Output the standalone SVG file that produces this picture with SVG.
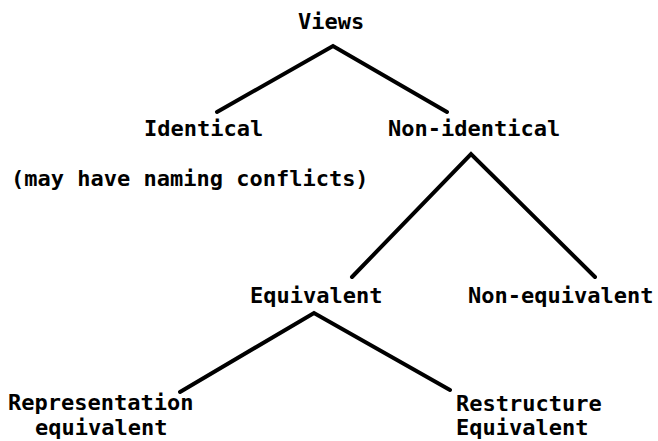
<svg xmlns="http://www.w3.org/2000/svg" width="658" height="441" viewBox="0 0 658 441">
  <style>
    .label { font-family: "DejaVu Sans Mono", "Liberation Mono", monospace; font-size: 22px; font-weight: bold; fill: #000; }
    .edge { fill: none; stroke: #000; stroke-width: 4; stroke-linejoin: miter; stroke-linecap: round; }
  </style>
  <rect width="658" height="441" fill="#fff"/>

  <!-- connectors: each tree branch is drawn as a single bent polyline -->
  <g id="connectors">
    <polyline class="edge" points="217,112 333,46 447,112"/>
    <polyline class="edge" points="352,277 471,154 595,277"/>
    <polyline class="edge" points="180,392 314,313 450,390"/>
  </g>

  <g id="views"><text class="label" x="298" y="29">Views</text></g>
  <g id="identical"><text class="label" x="144" y="136">Identical</text></g>
  <g id="non-identical"><text class="label" x="388" y="136">Non-identical</text></g>
  <g id="naming-note"><text class="label" x="11" y="186">(may have naming conflicts)</text></g>
  <g id="equivalent"><text class="label" x="250" y="303">Equivalent</text></g>
  <g id="non-equivalent"><text class="label" x="468" y="303">Non-equivalent</text></g>
  <g id="representation-equivalent">
    <text class="label" x="8" y="410">Representation</text>
    <text class="label" x="35" y="435">equivalent</text>
  </g>
  <g id="restructure-equivalent">
    <text class="label" x="456" y="411">Restructure</text>
    <text class="label" x="456" y="435">Equivalent</text>
  </g>
</svg>
